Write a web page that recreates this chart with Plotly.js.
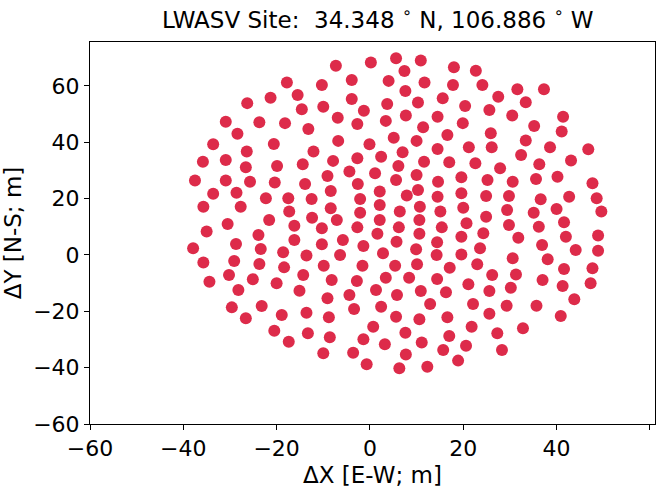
<!DOCTYPE html>
<html>
<head>
<meta charset="utf-8">
<script src="https://cdn.plot.ly/plotly-3.0.1.min.js"></script>
<style>html,body{margin:0;padding:0;background:#fff;}#chart{width:657px;height:495px;}</style>
</head>
<body>
<div id="chart"></div>
<script>
// Antenna positions (ΔX east-west, ΔY north-south), metres
const antX = [
-17.8,-21.3,-15.5,-26.3,-14.6,-30.9,-23.7,-18.2,-13.2,
-7.3,0.2,5.6,10.9,18.0,-10.3,-3.9,4.0,7.4,11.7,17.8,7.6,-10.0,-3.9,-1.3,3.7,10.3,15.6,-6.9,-2.7,3.4,7.7,11.4,14.5,
22.7,24.1,27.5,31.6,37.3,20.4,25.6,33.4,30.5,41.4,19.9,35.2,
-28.4,-33.6,-20.6,-26.4,-12.1,-35.8,-30.9,-26.6,-19.9,-14.4,-37.5,-30.9,-25.7,-20.4,-13.9,-33.6,-28.6,-22.3,-17.5,-12.5,-35.7,-27.7,-17.3,
-6.8,-0.1,5.1,10.0,16.6,-7.9,-2.7,2.4,7.0,11.6,14.5,17.0,-9.1,-4.4,1.1,6.1,5.6,10.0,14.6,-8.4,-2.6,2.1,7.9,10.3,14.5,-8.4,-2.1,2.1,6.4,10.7,15.1,-2.1,
25.9,33.4,41.1,21.2,26.1,32.4,38.6,46.8,22.6,27.9,36.3,43.1,19.6,25.2,30.6,35.6,40.2,47.7,19.6,24.9,29.8,36.6,42.7,48.6,20.0,29.4,35.1,40.0,49.6,
20.7,24.9,29.8,36.2,41.6,19.6,24.3,31.8,42.0,48.9,19.6,23.6,36.9,44.1,48.9,23.0,30.6,38.1,41.6,47.7,26.2,31.3,21.1,25.6,30.2,37.0,41.3,47.3,43.8,
22.1,29.3,35.7,25.6,40.9,21.8,27.3,32.8,20.6,28.3,
-30.5,-21.6,-16.2,-12.4,-35.0,-23.9,-16.2,-37.9,-28.7,-23.4,-18.6,-35.7,-29.1,-23.7,-18.4,-13.6,-34.4,-30.2,-25.1,-20.0,-14.3,-28.2,-15.1,
-29.6,-26.6,-23.2,-18.9,-13.6,-20.5,-17.4,-13.3,
-7.1,2.1,10.6,-10.3,-2.7,6.2,15.4,1.6,10.6,-10.3,-5.8,5.7,14.4,-1.4,2.8,9.9,-6.4,14.3,-9.9,-1.6,5.4,10.1,17.1,-8.2,-2.8,3.4,8.4,14.4,-9.1,-4.4,1.3,5.8,10.9,16.3,
2.4,12.9,-3.4,-8.8,5.6,10.6,16.6,0.7,-8.6,-1.4,3.2,7.6,11.1,17.0,-10.0,-3.6,7.7,15.7,18.9,-0.7,6.3,12.3
];
const antY = [
61.2,55.8,56.8,53.9,51.7,47.3,47.1,46.8,44.7,
67.2,68.3,69.8,69.0,66.6,60.3,62.1,61.8,65.3,61.2,60.3,58.2,52.6,55.4,51.2,53.6,54.1,55.6,48.7,46.5,47.6,49.5,45.3,49.1,
65.4,60.3,56.2,58.8,58.8,52.9,51.5,54.2,49.5,49.1,46.8,45.8,
43.0,39.3,39.4,36.7,36.7,33.1,33.7,31.1,31.6,32.2,26.4,26.4,26.0,25.7,25.2,21.7,22.1,20.1,20.1,19.9,17.1,17.1,15.4,
40.5,39.3,41.6,40.5,42.6,33.4,34.3,34.9,36.5,33.1,37.6,32.9,28.0,29.6,29.0,31.6,26.6,28.4,26.0,22.7,25.2,22.5,21.1,23.1,20.7,16.6,19.9,17.7,15.4,17.1,15.4,15.0,
43.2,40.6,43.8,38.2,38.2,35.5,38.2,37.5,32.6,30.8,32.2,33.5,27.6,26.6,26.0,27.0,27.8,25.5,21.9,20.9,20.9,19.8,20.7,20.1,16.8,16.0,15.0,16.3,15.4,
11.3,13.6,10.6,10.0,11.6,6.5,7.7,6.1,6.5,6.9,0.2,2.4,3.5,1.8,1.5,-3.3,-1.2,-1.5,-5.0,-4.7,-7.1,-6.9,-10.4,-12.8,-11.6,-8.9,-11.0,-10.0,-15.7,
-17.4,-18.0,-18.0,-20.9,-21.7,-25.5,-27.8,-26.0,-32.2,-33.7,
11.0,12.4,10.4,13.2,8.3,7.1,5.3,2.4,3.9,2.1,1.0,-2.7,-2.1,-3.2,-4.4,-0.2,-9.5,-7.1,-8.6,-10.0,-7.1,-12.4,-12.7,
-18.6,-22.5,-18.1,-21.3,-20.5,-26.9,-30.8,-27.8,
12.4,12.4,12.4,9.5,9.8,9.8,9.8,7.5,7.5,3.8,5.3,4.7,4.5,3.2,0.6,2.0,0.0,0.0,-3.8,-3.8,-3.8,-3.3,-4.5,-8.9,-9.2,-8.1,-8.1,-8.5,-15.4,-14.2,-12.4,-14.2,-12.8,-13.2,
-18.4,-17.4,-19.2,-22.1,-21.9,-22.8,-22.1,-25.5,-29.2,-29.9,-31.7,-27.6,-31.1,-28.8,-34.9,-34.7,-35.3,-33.7,-37.5,-38.8,-40.2,-39.7
];
const titleText = 'LWASV Site:\u00a0\u00a034.348\u00a0<sup>\u2218</sup>\u00a0N, 106.886\u00a0<sup>\u2218</sup>\u00a0W';
const xTitle = '\u0394X [E-W; m]';
const yTitle = '\u0394Y [N-S; m]';
const tickVals = [-60,-40,-20,0,20,40,60];

const font = 'DejaVu Sans, Liberation Sans, sans-serif';
const trace = {
  type: 'scatter', mode: 'markers', x: antX, y: antY,
  marker: {color: '#dd2b4a', size: 12, line: {width: 0}},
  hoverinfo: 'skip'
};
const axisCommon = {
  showgrid: false, zeroline: false, showline: true, linecolor: '#000', linewidth: 1,
  mirror: true, ticks: 'outside', ticklen: 5, tickcolor: '#000', tickwidth: 1,
  tickvals: tickVals, tickfont: {family: font, size: 22, color: '#000'}
};
const layout = {
  width: 657, height: 495,
  margin: {l: 90, r: 2, t: 42, b: 71},
  paper_bgcolor: '#fff', plot_bgcolor: '#fff',
  showlegend: false,
  title: {text: titleText, font: {family: font, size: 23, color: '#000'}, x: 0.575, xanchor: 'center', y: 0.96, yanchor: 'middle'},
  xaxis: Object.assign({}, axisCommon, {range: [-60, 61.1], title: {text: xTitle, font: {family: font, size: 23, color: '#000'}, standoff: 6}}),
  yaxis: Object.assign({}, axisCommon, {range: [-60, 75.6], title: {text: yTitle, font: {family: font, size: 23, color: '#000'}, standoff: 8}})
};
Plotly.newPlot('chart', [trace], layout, {displayModeBar: false, staticPlot: true});
</script>
</body>
</html>
